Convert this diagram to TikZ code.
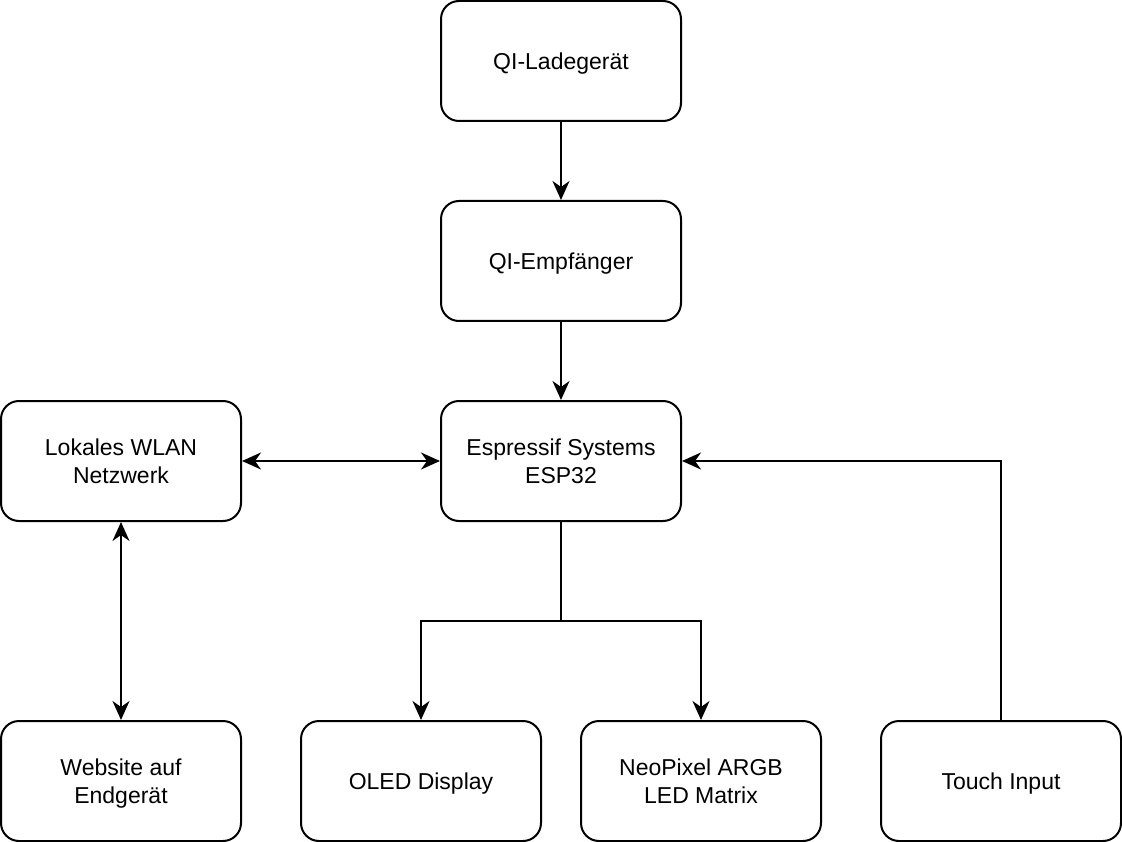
\documentclass[tikz,border=0pt]{standalone}
\usepackage{fontspec}
\setmainfont{Liberation Sans}
\usetikzlibrary{arrows.meta}
\begin{document}
\begin{tikzpicture}[x=1pt,y=-1pt,
  box/.style={draw=black,line width=2pt,rounded corners=18pt,minimum width=240pt,minimum height=120pt,align=center,font=\fontsize{23}{28}\selectfont,inner sep=0pt,text depth=0pt},
  tip/.tip={Stealth[length=19pt,width=17pt,inset=6pt]},
  conn/.style={line width=2pt,-tip},
  biconn/.style={line width=2pt,tip-tip}]
\useasboundingbox (0,0) rectangle (1122,842);
\node[box] (lade) at (561,61) {QI-Ladegerät};
\node[box] (empf) at (561,261) {QI-Empfänger};
\node[box] (esp) at (561,461) {Espressif Systems\\ESP32};
\node[box] (wlan) at (121,461) {Lokales WLAN\\Netzwerk};
\node[box] (web) at (121,781) {Website auf\\Endgerät};
\node[box] (oled) at (421,781) {OLED Display};
\node[box] (neo) at (701,781) {NeoPixel ARGB\\LED Matrix};
\node[box] (touch) at (1001,781) {Touch Input};
\coordinate (split) at (561,621);
\draw[conn] (lade) -- (empf);
\draw[conn] (empf) -- (esp);
\draw[biconn] (wlan) -- (esp);
\draw[biconn] (wlan) -- (web);
\draw[conn] (esp.south) -- (split) -| (oled.north);
\draw[conn] (split) -| (neo.north);
\draw[conn] (touch.north) |- (esp.east);
\end{tikzpicture}
\end{document}
